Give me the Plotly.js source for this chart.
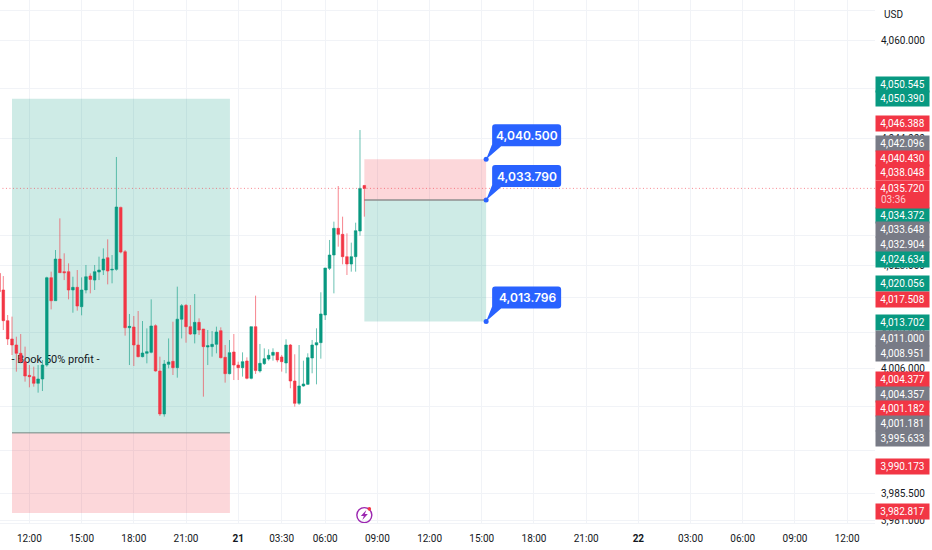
<!DOCTYPE html>
<html><head><meta charset="utf-8">
<script src="https://cdn.plot.ly/plotly-3.0.1.min.js"></script>
<style>html,body{margin:0;padding:0;background:#fff}</style></head>
<body><div id="chart" style="width:932px;height:550px"></div>
<script>
const opens=[4021.72,4018.98,4013.93,4010.91,4009.92,4008.55,4007.17,4004.92,4004.70,4003.61,4004.32,4006.62,4021.01,4017.22,4024.08,4022.00,4022.00,4018.98,4019.42,4016.23,4018.98,4021.28,4020.62,4021.94,4022.27,4024.30,4022.27,4022.38,4032.59,4025.29,4012.77,4012.88,4009.92,4008.00,4008.55,4008.71,4013.10,4005.64,3998.56,4006.73,4007.23,4006.19,4014.17,4016.45,4012.94,4011.73,4013.65,4012.55,4009.59,4009.65,4010.03,4012.28,4007.89,4005.20,4008.77,4006.62,4006.19,4007.29,4004.43,4012.94,4005.64,4006.85,4007.62,4008.22,4008.71,4007.95,4006.96,4009.92,4003.99,4000.31,4003.17,4003.44,4007.78,4009.92,4010.31,4014.86,4022.55,4024.74,4029.14,4028.15,4024.47,4023.26,4024.47,4028.70,4036.20];
const highs=[4023.10,4021.28,4014.86,4014.59,4011.29,4011.73,4009.65,4006.62,4006.35,4006.62,4007.45,4021.17,4022.00,4025.57,4030.78,4025.02,4023.37,4021.17,4022.27,4021.06,4023.10,4021.72,4023.10,4024.47,4025.84,4027.32,4024.74,4040.89,4032.70,4025.57,4015.03,4014.70,4015.52,4013.87,4012.66,4017.44,4013.32,4008.00,4007.45,4011.00,4013.76,4019.53,4016.67,4016.67,4016.51,4018.32,4014.31,4012.55,4012.39,4012.22,4012.94,4012.83,4009.92,4010.74,4011.73,4007.17,4008.71,4007.89,4012.94,4018.05,4010.09,4009.37,4009.21,4009.37,4008.71,4008.28,4010.86,4010.09,4008.39,4009.92,4007.34,4008.55,4010.75,4012.67,4018.60,4022.60,4027.22,4030.24,4036.11,4031.06,4028.31,4026.78,4030.07,4045.33,4036.27];
const lows=[4017.88,4012.39,4009.92,4008.27,4005.53,4006.90,4003.88,4002.95,4003.06,4002.07,4002.34,4006.35,4015.79,4017.22,4021.83,4020.62,4017.44,4015.24,4015.57,4014.81,4018.43,4018.43,4018.98,4020.62,4021.45,4019.91,4020.08,4022.16,4025.02,4011.46,4006.62,4006.46,4007.89,4007.89,4006.90,4008.55,4005.53,3998.23,3998.12,4006.08,4004.98,4004.54,4011.00,4010.30,4011.57,4010.19,4011.57,4001.41,4006.62,4008.00,4008.55,4007.72,4003.72,4005.09,4004.15,4004.15,4004.71,4004.27,4004.27,4005.15,4005.37,4006.63,4007.34,4007.34,4007.07,4005.53,4005.26,4002.79,3999.77,4000.04,4003.06,4003.33,4005.26,4003.44,4007.67,4014.04,4022.27,4018.43,4026.12,4023.21,4021.45,4022.00,4022.00,4027.93,4031.06];
const closes=[4018.70,4013.93,4010.91,4009.92,4008.55,4007.17,4004.81,4004.70,4003.61,4004.32,4006.62,4021.01,4017.22,4024.08,4021.83,4021.83,4018.98,4019.42,4016.34,4018.98,4021.17,4020.73,4022.00,4022.27,4024.08,4022.11,4022.38,4032.65,4025.23,4012.77,4012.99,4009.92,4008.00,4008.60,4008.82,4013.05,4005.64,3998.56,4006.79,4007.12,4006.19,4014.17,4016.40,4012.94,4011.73,4013.65,4012.39,4009.65,4009.81,4010.03,4012.06,4007.83,4005.20,4008.66,4006.62,4006.19,4007.18,4004.43,4012.94,4005.70,4006.90,4007.67,4008.22,4008.71,4007.45,4007.18,4009.92,4003.99,4000.31,4003.17,4003.50,4007.84,4009.92,4010.31,4015.03,4022.60,4024.74,4029.14,4028.15,4024.47,4023.26,4024.47,4028.75,4035.72,4035.72];
const barIndex=opens.map((_,i)=>i-1);

const timeTickBars=[6,18,30,42,54,64,74,86,98,110,122,134,146,158,170,182,194];
const timeTickText=['12:00','15:00','18:00','21:00','<b>21</b>','03:30','06:00','09:00','12:00','15:00','18:00','21:00','<b>22</b>','03:00','06:00','09:00','12:00'];

const priceTicks=[4064.94,4060,4052.25,4044,4028.04,4023,4017.82,4012,4006,3999.87,3992.62,3985.5,3981];
const priceTickText=['','4,060.000','','4,044.000','','4,023.000','','4,012.000','4,006.000','','','3,985.500','3,981.000'];

const lastPrice=4035.72;
const tradeEntry=4033.79, tradeStop=4040.5, tradeTarget=4013.796;
const oldTop=4050.5, oldMid=3995.45, oldBottom=3982.25;
const calloutPrices=[4040.5,4033.79,4013.796];
const calloutText=['4,040.500','4,033.790','4,013.796'];

const stackText=['4,050.545','4,050.390','4,046.388','4,042.096','4,040.430','4,038.048','4,034.372','4,033.648','4,032.904','4,024.634','4,020.056','4,017.508','4,013.702','4,011.000','4,008.951','4,004.377','4,004.357','4,001.182','4,001.181','3,995.633','3,990.173','3,982.817'];
const stackColor=['g','g','r','k','r','r','g','k','k','g','g','r','g','k','k','r','k','r','k','k','r','r'];
const stackRow=[84.3,99,123,143.5,158,173,215.3,229.7,244.3,259,283.3,299.3,322,338.3,353.3,379.3,394,408.7,423.3,438.3,466,511.3];

const GREEN='#089981',RED='#F23645',GRAY='#787B86',BLUE='#2962FF',INK='#131722',GRID='#f1f3f7';
const FONT='Roboto, sans-serif';
const palette={g:GREEN,r:RED,k:GRAY};
const PLOT_H=523;

const candles={type:'candlestick',x:barIndex,open:opens,high:highs,low:lows,close:closes,
 increasing:{line:{color:'rgba(8,153,129,0.6)',width:1},fillcolor:GREEN},
 decreasing:{line:{color:'rgba(242,54,69,0.6)',width:1},fillcolor:RED},
 whiskerwidth:0,hoverinfo:'skip',showlegend:false};
const dots={type:'scatter',mode:'markers',x:[111,111,111],y:calloutPrices,
 marker:{color:BLUE,size:5},hoverinfo:'skip',showlegend:false};

function rect(x0,x1,y0,y1,fill){return {type:'rect',layer:'between',xref:'x',yref:'y',x0,x1,y0,y1,fillcolor:fill,line:{width:0}};}
function calloutShape(price){return {type:'path',layer:'above',xref:'x',yref:'y',xsizemode:'pixel',ysizemode:'pixel',xanchor:111,yanchor:price,
 path:'M 0 0 L 6 15 L 6 32 Q 6 35 9 35 L 72 35 Q 75 35 75 32 L 75 16 Q 75 13 72 13 L 15 13 Z',fillcolor:BLUE,line:{width:0}};}
const iconX=83, iconY=3981.9;
function iconShape(o){return Object.assign({layer:'above',xref:'x',yref:'y',xsizemode:'pixel',ysizemode:'pixel',xanchor:iconX,yanchor:iconY},o);}

const shapes=[
 rect(2,52.1,oldMid,oldTop,'rgba(8,153,129,0.2)'),
 rect(2,52.1,oldBottom,oldMid,'rgba(242,54,69,0.2)'),
 rect(83,111,tradeEntry,tradeStop,'rgba(242,54,69,0.2)'),
 rect(83,111,tradeTarget,tradeEntry,'rgba(8,153,129,0.2)'),
 {type:'line',layer:'between',xref:'x',yref:'y',x0:2,x1:52.1,y0:oldMid,y1:oldMid,line:{color:'#6f8a84',width:1}},
 {type:'line',layer:'between',xref:'x',yref:'y',x0:83,x1:111,y0:tradeEntry,y1:tradeEntry,line:{color:'#8f8f8f',width:1.5}},
 {type:'line',layer:'between',xref:'x',yref:'y',x0:2,x1:22,y0:4007.77,y1:4007.77,line:{width:0},
  label:{text:'- Book 50% profit -',font:{family:FONT,size:11,color:INK},textposition:'middle',yanchor:'middle'}},
 {type:'line',layer:'above',xref:'x',yref:'y',x0:-1,x1:200.4,y0:lastPrice,y1:lastPrice,line:{color:'rgba(242,54,69,0.6)',width:1,dash:'1px,2.5px'}},
 ...calloutPrices.map(calloutShape),
 iconShape({type:'circle',x0:-7.5,x1:7.5,y0:-7.5,y1:7.5,line:{color:'#9C27B0',width:1.4},fillcolor:'rgba(255,255,255,0)'}),
 iconShape({type:'path',path:'M 2 5 L -3.5 -0.8 L -0.5 -0.8 L -2 -5 L 3.5 1 L 0.5 1 Z',fillcolor:'#9C27B0',line:{width:0}}),
 iconShape({type:'circle',x0:3.2,x1:6.8,y0:4.4,y1:8,line:{width:0},fillcolor:RED})
];

const yFrac=p=>1-p/PLOT_H;
function sideNote(o){return Object.assign({xref:'paper',yref:'paper',x:1,xshift:27.5,xanchor:'center',yanchor:'middle',showarrow:false,font:{family:FONT,size:10,color:'#fff'},borderpad:0},o);}
const annotations=[
 sideNote({y:yFrac(14.5),xshift:18.5,text:'USD',font:{family:FONT,size:10,color:INK}}),
 ...stackText.map((t,i)=>sideNote({y:yFrac(stackRow[i]),text:t,bgcolor:palette[stackColor[i]],width:53,height:15})),
 sideNote({y:yFrac(194),text:'4,035.720<br>&nbsp;',bgcolor:RED,width:53,height:27}),
 sideNote({y:yFrac(200),xshift:18,text:'03:36',font:{family:FONT,size:10,color:'rgba(255,255,255,0.75)'}}),
 ...calloutPrices.map((p,i)=>({xref:'x',yref:'y',x:111,y:p,xanchor:'center',yanchor:'middle',xshift:41,yshift:24,showarrow:false,text:calloutText[i],font:{family:'Inter, sans-serif',size:12,weight:600,color:'#fff'}}))
];

const layout={width:932,height:550,margin:{l:0,r:57,t:0,b:27},paper_bgcolor:'#fff',plot_bgcolor:'#fff',showlegend:false,boxgap:0.15,
 font:{family:FONT,size:10,color:INK},
 xaxis:{type:'linear',range:[-0.76,200.4],tickmode:'array',tickvals:timeTickBars,ticktext:timeTickText,showgrid:true,gridcolor:GRID,gridwidth:1,zeroline:false,showline:true,linecolor:GRID,ticks:'',ticklabelstandoff:6,tickfont:{family:FONT,size:10,color:INK},rangeslider:{visible:false},fixedrange:true},
 yaxis:{side:'right',range:[3980.6,4066.75],tickmode:'array',tickvals:priceTicks,ticktext:priceTickText,showgrid:true,gridcolor:GRID,gridwidth:1,zeroline:false,showline:false,ticks:'',ticklabelstandoff:5,tickfont:{family:FONT,size:10,color:INK},fixedrange:true},
 shapes,annotations};
Plotly.newPlot('chart',[candles,dots],layout,{displayModeBar:false,staticPlot:true});
</script></body></html>
